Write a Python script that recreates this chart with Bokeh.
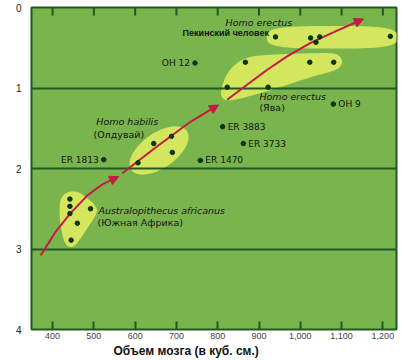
import numpy as np
from bokeh.plotting import figure
from bokeh.models import (Range1d, FixedTicker, NumeralTickFormatter,
                          Label, Arrow, NormalHead, Title)
from bokeh.core.properties import value
from bokeh.embed import file_html
from bokeh.resources import INLINE

# ---------------- data (brain volume in cc, age in million years) ----------------
austr_cc = [442, 442, 442, 460, 445, 492]
austr_my = [2.38, 2.47, 2.56, 2.68, 2.89, 2.50]
habilis_cc = [645, 688, 690, 607]
habilis_my = [1.69, 1.60, 1.80, 1.93]
peking_cc = [940, 1025, 1047, 1038, 1218]
peking_my = [0.365, 0.378, 0.365, 0.432, 0.358]
java_cc = [867, 1023, 1081, 823, 922]
java_my = [0.68, 0.68, 0.68, 0.99, 0.99]

spec_names = ["OH 12", "OH 9", "ER 3883", "ER 3733", "ER 1470", "ER 1813"]
spec_cc = [745, 1080, 812, 862, 758, 524]
spec_my = [0.69, 1.20, 1.48, 1.69, 1.90, 1.89]
spec_align = ["right", "left", "left", "left", "left", "right"]

x_ticks = [400, 500, 600, 700, 800, 900, 1000, 1100, 1200]
y_ticks = [0, 1, 2, 3, 4]
x_title = "Объем мозга (в куб. см.)"
y_title = ["млн.", "лет"]

# trend arrows (hand-drawn evolution trend)
trend1_cc = [371, 407, 441, 485, 523, 560]
trend1_my = [3.08, 2.79, 2.57, 2.33, 2.19, 2.10]
trend2_cc = [569, 652, 734, 802]
trend2_my = [2.06, 1.73, 1.42, 1.21]
trend3_cc = [823, 871, 920, 968, 1025, 1081, 1153]
trend3_my = [1.146, 0.96, 0.773, 0.607, 0.44, 0.305, 0.143]

# highlighted group outlines
austr_blob_cc = [419, 427, 444, 463, 482, 499, 509, 504, 487, 468, 453, 439, 429, 422, 417, 417]
austr_blob_my = [2.39, 2.32, 2.28, 2.29, 2.36, 2.43, 2.51, 2.59, 2.72, 2.87, 2.97, 2.98, 2.92, 2.79, 2.62, 2.47]
java_blob_cc = [809, 819, 838, 867, 916, 1073, 1092, 1102, 1100, 1085, 1037, 945, 879, 843, 819, 807]
java_blob_my = [1.00, 0.85, 0.72, 0.62, 0.585, 0.56, 0.585, 0.65, 0.72, 0.785, 0.845, 1.00, 1.10, 1.146, 1.16, 1.10]
peking_blob = dict(cx=1077, cy=0.37, a=158, b=0.14)
habilis_blob = dict(cx=658, cy=1.776, w=68, h=35, angle=0.61)

group_labels = [
    ("Homo erectus", 819, 0.187, "italic", "DejaVu Sans", "9.5px"),
    ("Пекинский человек", 715, 0.312, "bold", "Liberation Sans", "9px"),
    ("Homo erectus", 901, 1.109, "italic", "DejaVu Sans", "9.5px"),
    ("(Ява)", 901, 1.246, "normal", "DejaVu Sans", "9.5px"),
    ("Homo habilis", 506, 1.421, "italic", "DejaVu Sans", "9.5px"),
    ("(Олдувай)", 499, 1.576, "normal", "DejaVu Sans", "9.5px"),
    ("Australopithecus africanus", 511, 2.517, "italic", "DejaVu Sans", "9.5px"),
    ("(Южная Африка)", 509, 2.673, "normal", "DejaVu Sans", "9.5px"),
]

# ---------------- style ----------------
GREEN = "#79b54c"
DARK = "#1f5a22"
BLOB = "#d3e65e"
RED = "#c41a43"
DOT = "#0c3312"
TXT = "#141414"


def chaikin(xs, ys, n=3):
    pts = np.column_stack([xs, ys]).astype(float)
    for _ in range(n):
        nxt = np.roll(pts, -1, axis=0)
        q = 0.75 * pts + 0.25 * nxt
        r = 0.25 * pts + 0.75 * nxt
        out = np.empty((2 * len(q), 2))
        out[0::2] = q
        out[1::2] = r
        pts = out
    return pts[:, 0].tolist(), pts[:, 1].tolist()


p = figure(width=400, height=360, x_range=Range1d(349, 1233), y_range=Range1d(4, 0),
           output_backend="svg", toolbar_location=None,
           min_border_left=31, min_border_right=4, min_border_top=7, min_border_bottom=31,
           background_fill_color=GREEN, border_fill_color="white",
           outline_line_color=DARK, outline_line_width=2)

# axes
xa = p.xaxis[0]
xa.ticker = FixedTicker(ticks=x_ticks)
xa.formatter = NumeralTickFormatter(format="0,0")
xa.major_tick_in = 8
xa.major_tick_out = 0
xa.major_tick_line_color = DARK
xa.major_tick_line_width = 2
xa.minor_tick_line_color = None
xa.axis_line_color = None
xa.major_label_text_font = "Liberation Sans"
xa.major_label_text_font_size = "9px"
xa.major_label_text_color = "#444444"
xa.major_label_standoff = 3

ya = p.yaxis[0]
ya.ticker = FixedTicker(ticks=y_ticks)
ya.major_tick_line_color = None
ya.minor_tick_line_color = None
ya.axis_line_color = None
ya.major_label_text_font = "Liberation Sans"
ya.major_label_text_font_size = "10px"
ya.major_label_text_color = "#222222"
ya.major_label_standoff = 4

p.xgrid.visible = False
p.ygrid.ticker = FixedTicker(ticks=[1, 2, 3])
p.ygrid.grid_line_color = DARK
p.ygrid.grid_line_width = 2

# inward ticks along the top edge (half of a vertical dash, clipped by the frame)
p.scatter(x_ticks, [y_ticks[0]] * len(x_ticks), marker="dash", angle=np.pi / 2, size=16,
          line_color=DARK, line_width=2)

# blobs
bx, by = chaikin(austr_blob_cc, austr_blob_my)
r = p.patch(bx, by, fill_color=BLOB, line_color=None)
r.level = "image"
jx, jy = chaikin(java_blob_cc, java_blob_my)
r = p.patch(jx, jy, fill_color=BLOB, line_color=None)
r.level = "image"
t = np.linspace(0, 2 * np.pi, 120)
c, s = np.cos(t), np.sin(t)
kx = peking_blob["cx"] + peking_blob["a"] * np.sign(c) * np.abs(c) ** 0.6
ky = peking_blob["cy"] + peking_blob["b"] * np.sign(s) * np.abs(s) ** 0.6
r = p.patch(kx.tolist(), ky.tolist(), fill_color=BLOB, line_color=None)
r.level = "image"
r = p.ellipse(x=[habilis_blob["cx"]], y=[habilis_blob["cy"]], width=habilis_blob["w"],
              height=habilis_blob["h"], angle=habilis_blob["angle"],
              width_units="screen", height_units="screen", fill_color=BLOB, line_color=None)
r.level = "image"

# trend arrows
for xs, ys in [(trend1_cc, trend1_my), (trend2_cc, trend2_my), (trend3_cc, trend3_my)]:
    p.line(xs[:-1], ys[:-1], line_color=RED, line_width=2)
    p.add_layout(Arrow(end=NormalHead(size=9, fill_color=RED, line_color=RED, line_width=1),
                       x_start=xs[-2], y_start=ys[-2], x_end=xs[-1], y_end=ys[-1],
                       line_color=RED, line_width=2))

# dots
all_cc = austr_cc + habilis_cc + peking_cc + java_cc + spec_cc
all_my = austr_my + habilis_my + peking_my + java_my + spec_my
p.scatter(all_cc, all_my, size=4.5, fill_color=DOT, line_color=DOT)

# specimen labels
for name, x, y, al in zip(spec_names, spec_cc, spec_my, spec_align):
    p.text([x], [y], text=[name], x_offset=5 if al == "left" else -5,
           text_align=al, text_baseline="middle", text_font=value("DejaVu Sans"),
           text_font_size="9px", text_color=TXT)

# group labels
for txt, x, y, style, font, fs in group_labels:
    p.text([x], [y], text=[txt], text_align="left", text_baseline="middle",
           text_font=value(font), text_font_style=style, text_font_size=fs, text_color=TXT)

# y title (two lines, left of the frame)
p.add_layout(Label(x=306, y=1.495, text=y_title[0], text_align="center", text_baseline="middle",
                   text_font="DejaVu Sans", text_font_size="9.5px", text_color=TXT))
p.add_layout(Label(x=308, y=1.62, text=y_title[1], text_align="center", text_baseline="middle",
                   text_font="DejaVu Sans", text_font_size="9.5px", text_color=TXT))

# x title below the axis
p.add_layout(Title(text=x_title, align="left", offset=82, standoff=0,
                   text_font="Liberation Sans", text_font_style="bold",
                   text_font_size="12px", text_color="#111111"), "below")

open("out.html", "w").write(file_html(p, INLINE))
